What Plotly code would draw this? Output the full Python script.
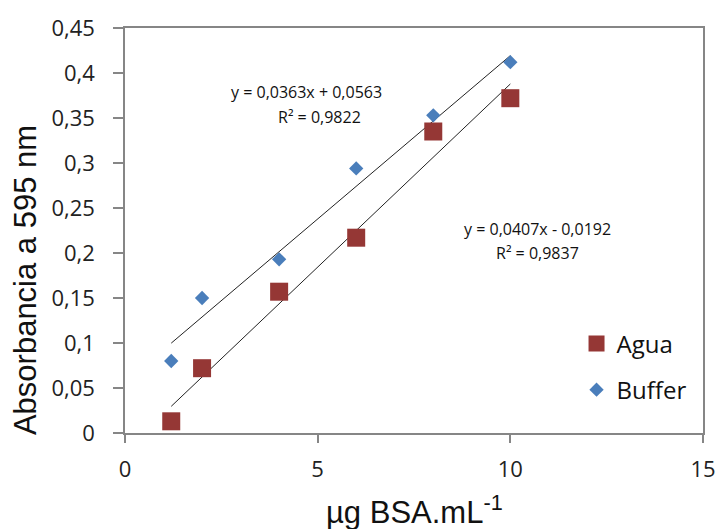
import plotly.graph_objects as go

# ---- data ----
conc = [1.2, 2, 4, 6, 8, 10]
agua = [0.013, 0.072, 0.157, 0.217, 0.335, 0.372]
buffer = [0.080, 0.150, 0.193, 0.294, 0.353, 0.412]

# trendline coefficients (slope, intercept) as shown in the chart
agua_fit = [0.0407, -0.0192]
buffer_fit = [0.0363, 0.0563]
agua_r2 = "0,9837"
buffer_r2 = "0,9822"

y_tickvals = [0, 0.05, 0.1, 0.15, 0.2, 0.25, 0.3, 0.35, 0.4, 0.45]
y_ticktext = ["0", "0,05", "0,1", "0,15", "0,2", "0,25", "0,3", "0,35", "0,4", "0,45"]
x_tickvals = [0, 5, 10, 15]
x_ticktext = ["0", "5", "10", "15"]

W, H = 728, 529
L, R, T, B = 125, 18, 23, 96
PW, PH = W - L - R, H - T - B

def px(xp):
    return (xp - L) / PW

def py(yp):
    return 1 - (yp - T) / PH

tick_font = dict(family="Open Sans", size=22, color="#222222")
line_col = "#868686"
trend_col = "#222222"

fig = go.Figure()

xs = [min(conc), max(conc)]
fig.add_trace(go.Scatter(x=xs, y=[buffer_fit[0] * v + buffer_fit[1] for v in xs],
                         mode="lines", line=dict(color=trend_col, width=1),
                         showlegend=False, hoverinfo="skip"))
fig.add_trace(go.Scatter(x=xs, y=[agua_fit[0] * v + agua_fit[1] for v in xs],
                         mode="lines", line=dict(color=trend_col, width=1),
                         showlegend=False, hoverinfo="skip"))

fig.add_trace(go.Scatter(x=conc, y=agua, mode="markers", name="Agua",
                         legendgroup="a",
                         marker=dict(symbol="square", size=18, color="#953735")))
fig.add_trace(go.Scatter(x=conc, y=buffer, mode="markers", name="Buffer",
                         legendgroup="b",
                         marker=dict(symbol="diamond", size=11, color="#4A7EBB")))

def sign(v):
    return "+" if v >= 0 else "-"

def fmt(v):
    return ("%.4f" % abs(v)).replace(".", ",")

eq_font = dict(family="Open Sans", size=16, color="#111111")
ann = [
    dict(x=px(309), y=py(88), text="y = %sx %s %s" % (fmt(buffer_fit[0]), sign(buffer_fit[1]), fmt(buffer_fit[1]))),
    dict(x=px(322), y=py(113), text="R² = %s" % buffer_r2),
    dict(x=px(542), y=py(226), text="y = %sx %s %s" % (fmt(agua_fit[0]), sign(agua_fit[1]), fmt(agua_fit[1]))),
    dict(x=px(543), y=py(251), text="R² = %s" % agua_r2),
]
for a in ann:
    fig.add_annotation(xref="paper", yref="paper", showarrow=False,
                       xanchor="center", yanchor="middle", font=eq_font, **a)

fig.add_annotation(xref="paper", yref="paper", x=px(418), y=py(511),
                   text="µg BSA.mL<sup>-1</sup>", showarrow=False,
                   xanchor="center", yanchor="middle",
                   font=dict(family="Liberation Sans", size=31, color="#111111"))
fig.add_annotation(xref="paper", yref="paper", x=px(25), y=py(278),
                   text="Absorbancia a 595 nm", showarrow=False, textangle=-90,
                   xanchor="center", yanchor="middle",
                   font=dict(family="Liberation Sans", size=31, color="#111111"))

fig.update_layout(
    width=W, height=H,
    margin=dict(l=L, r=R, t=T, b=B, pad=0),
    paper_bgcolor="white", plot_bgcolor="white",
    showlegend=True,
    legend=dict(x=px(582), y=py(320), xanchor="left", yanchor="top",
                font=dict(family="Open Sans", size=24, color="#111111"),
                traceorder="grouped", tracegroupgap=12,
                bgcolor="rgba(0,0,0,0)", itemclick=False),
    xaxis=dict(range=[0, 15], tickvals=x_tickvals, ticktext=x_ticktext,
               showgrid=False, zeroline=False, showline=True, linecolor=line_col,
               linewidth=1.5, mirror=True, ticks="outside", ticklen=8,
               tickcolor=line_col, tickwidth=1.5, tickfont=tick_font,
               ticklabelstandoff=8),
    yaxis=dict(range=[0, 0.45], tickvals=y_tickvals, ticktext=y_ticktext,
               showgrid=False, zeroline=False, showline=True, linecolor=line_col,
               linewidth=1.5, mirror=True, ticks="outside", ticklen=10,
               tickcolor=line_col, tickwidth=1.5, tickfont=tick_font,
               ticklabelstandoff=14),
)

fig.write_html("out.html", config={"displayModeBar": False},
               post_script="document.body.style.margin='0';document.body.style.overflow='hidden';")
